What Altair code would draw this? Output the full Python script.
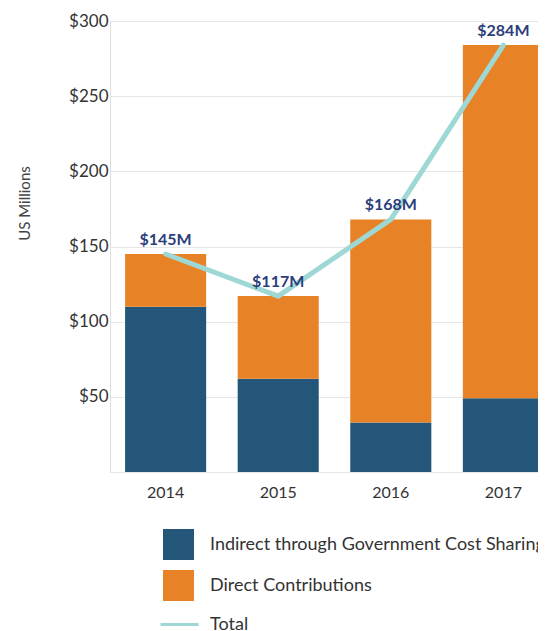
import altair as alt
import pandas as pd

years = ["2014", "2015", "2016", "2017"]
indirect = [110, 62, 33, 49]
direct = [35, 55, 135, 235]
totals = [145, 117, 168, 284]
total_labels = ["$145M", "$117M", "$168M", "$284M"]
series_names = ["Indirect through Government Cost Sharing", "Direct Contributions"]
line_name = "Total"
bar_colors = ["#235679", "#e88226"]
line_color = "#9dd8d5"
label_color = "#2c3e7b"
y_ticks = [0, 50, 100, 150, 200, 250, 300]

FONT = "Lato"

bars_df = pd.DataFrame({
    "year": years * 2,
    "series": [series_names[0]] * len(years) + [series_names[1]] * len(years),
    "value": indirect + direct,
    "order": [0] * len(years) + [1] * len(years),
})
tot_df = pd.DataFrame({
    "year": years,
    "total": totals,
    "label": total_labels,
    "series": [line_name] * len(years),
})

x_scale = alt.Scale(domain=years, range=[0, 449], paddingInner=0.28, paddingOuter=0.134)
y_scale = alt.Scale(domain=[0, 300], nice=False)

x_axis = alt.Axis(title=None, labelAngle=0, labelFontSize=16, labelColor="#333333",
                  labelFont=FONT, labelPadding=12, ticks=False, domain=False, grid=False)
y_axis = alt.Axis(values=y_ticks, labelExpr="datum.value == 0 ? '' : '$' + datum.value",
                  title="US Millions", titleX=-78, titleY=182, titleFontSize=15,
                  titleFontWeight="normal", titleColor="#444444", titleFont=FONT,
                  labelFontSize=17, labelColor="#333333", labelFont=FONT, labelPadding=2,
                  ticks=False, domain=False, grid=True, gridColor="#e6e6e6", gridWidth=1)

bars = alt.Chart(bars_df).mark_bar().encode(
    x=alt.X("year:N", scale=x_scale, axis=x_axis, sort=years),
    y=alt.Y("value:Q", stack="zero", scale=y_scale, axis=y_axis),
    color=alt.Color("series:N",
                    scale=alt.Scale(domain=series_names, range=bar_colors),
                    legend=alt.Legend(orient="none", legendX=53, legendY=508, title=None,
                                      symbolType="square", symbolSize=961, symbolStrokeWidth=0,
                                      symbolOpacity=1, labelFontSize=18, labelOffset=16,
                                      rowPadding=10, labelColor="#333333", labelFont=FONT,
                                      labelLimit=1000)),
    order=alt.Order("order:Q", sort="ascending"),
)

line = alt.Chart(tot_df).mark_line(strokeWidth=5, strokeCap="round").encode(
    x=alt.X("year:N", scale=x_scale, sort=years),
    y=alt.Y("total:Q", scale=y_scale),
    stroke=alt.Stroke("series:N",
                      scale=alt.Scale(domain=[line_name], range=[line_color]),
                      legend=alt.Legend(orient="none", legendX=49, legendY=583, title=None,
                                        symbolType="stroke", symbolSize=1444,
                                        symbolStrokeWidth=3, labelFontSize=18, labelOffset=10,
                                        labelColor="#333333", labelFont=FONT, labelLimit=1000)),
)

text = alt.Chart(tot_df).mark_text(dy=-14, fontWeight="bold", fontSize=16,
                                    color=label_color, font=FONT).encode(
    x=alt.X("year:N", scale=x_scale, sort=years),
    y=alt.Y("total:Q", scale=y_scale),
    text="label:N",
)

chart = alt.layer(bars, line, text).resolve_scale(color="independent").properties(
    width=428, height=451,
    autosize=alt.AutoSizeParams(type="none"),
    padding={"left": 102, "top": 13, "right": 0, "bottom": 159},
).configure_view(stroke=None).configure(background="white")

chart.save("out.html", embed_options={"renderer": "svg", "actions": False})
